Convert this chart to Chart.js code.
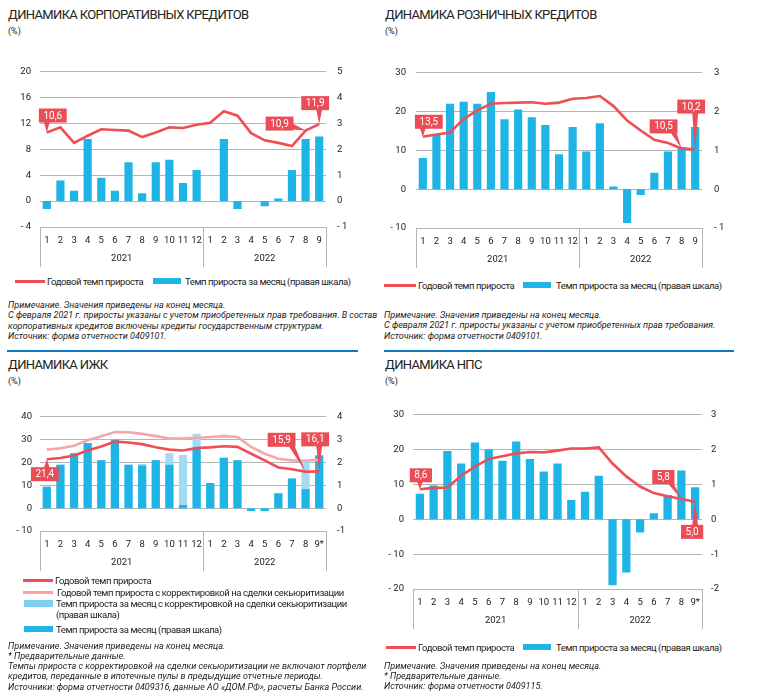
<!DOCTYPE html>
<html lang="ru">
<head>
<meta charset="utf-8">
<title>Динамика кредитов</title>
<script src="https://cdn.jsdelivr.net/npm/chart.js@4.4.1/dist/chart.umd.min.js"></script>
<style>
  html, body { margin: 0; padding: 0; background: #fff; }
  #page { position: relative; width: 768px; height: 699px; overflow: hidden; font-family: Roboto, sans-serif; color: #222; }
  #page canvas { position: absolute; }
  .title { position: absolute; font-size: 13px; letter-spacing: -0.65px; line-height: 14px; white-space: nowrap; }
  .unit { position: absolute; font-size: 9px; line-height: 10px; }
  .lg { position: absolute; font-size: 9.5px; letter-spacing: -0.42px; line-height: 11px; white-space: nowrap; }
  .sw { position: absolute; }
  .note { position: absolute; font-size: 9px; font-style: italic; line-height: 10.25px; white-space: nowrap; }
  .rule { position: absolute; top: 350px; height: 2px; background: #0a78c2; }
</style>
</head>
<body>
<div id="page">
  <div class="title" style="left:8px;top:8px">ДИНАМИКА КОРПОРАТИВНЫХ КРЕДИТОВ</div>
  <div class="unit" style="left:8px;top:26px">(%)</div>
  <div class="title" style="left:385px;top:8px">ДИНАМИКА РОЗНИЧНЫХ КРЕДИТОВ</div>
  <div class="unit" style="left:385px;top:26px">(%)</div>
  <div class="title" style="left:8px;top:358px">ДИНАМИКА ИЖК</div>
  <div class="unit" style="left:8px;top:376px">(%)</div>
  <div class="title" style="left:385px;top:358px">ДИНАМИКА НПС</div>
  <div class="unit" style="left:385px;top:376px">(%)</div>

  <canvas id="corp" width="384" height="220" style="left:0;top:55px"></canvas>
  <canvas id="retail" width="384" height="220" style="left:384px;top:55px"></canvas>
  <canvas id="ijk" width="384" height="175" style="left:0;top:400px"></canvas>
  <canvas id="nps" width="384" height="235" style="left:384px;top:400px"></canvas>

  <!-- legends -->
  <div class="sw" style="left:15px;top:279.5px;width:30px;height:3px;background:#ee4f55"></div>
  <div class="lg" style="left:47px;top:275.5px">Годовой темп прироста</div>
  <div class="sw" style="left:153px;top:278px;width:28px;height:6px;background:#1fb4e6"></div>
  <div class="lg" style="left:185px;top:275.5px">Темп прироста за месяц (правая шкала)</div>

  <div class="sw" style="left:384px;top:283.5px;width:32px;height:3px;background:#ee4f55"></div>
  <div class="lg" style="left:418px;top:279.5px">Годовой темп прироста</div>
  <div class="sw" style="left:523px;top:282px;width:28px;height:6px;background:#1fb4e6"></div>
  <div class="lg" style="left:556px;top:279.5px">Темп прироста за месяц (правая шкала)</div>

  <div class="sw" style="left:23px;top:578.5px;width:30px;height:3px;background:#ee4f55"></div>
  <div class="lg" style="left:55px;top:574.5px">Годовой темп прироста</div>
  <div class="sw" style="left:23px;top:590.5px;width:30px;height:3px;background:#f5a3a6"></div>
  <div class="lg" style="left:57px;top:586.5px">Годовой темп прироста с корректировкой на сделки секьюритизации</div>
  <div class="sw" style="left:24px;top:600px;width:29px;height:7px;background:#80cef1"></div>
  <div class="lg" style="left:56px;top:597.5px">Темп прироста за месяц с корректировкой на сделки секьюритизации<br>(правая шкала)</div>
  <div class="sw" style="left:24px;top:626px;width:29px;height:6px;background:#1fb4e6"></div>
  <div class="lg" style="left:56px;top:623.5px">Темп прироста за месяц (правая шкала)</div>

  <div class="sw" style="left:386px;top:645.5px;width:30px;height:3px;background:#ee4f55"></div>
  <div class="lg" style="left:418px;top:641.5px">Годовой темп прироста</div>
  <div class="sw" style="left:523px;top:644px;width:28px;height:6px;background:#1fb4e6"></div>
  <div class="lg" style="left:556px;top:641.5px">Темп прироста за месяц (правая шкала)</div>

  <!-- notes -->
  <div class="note" style="left:8px;top:300px">Примечание. Значения приведены на конец месяца.<br>С февраля 2021 г. приросты указаны с учетом приобретенных прав требования. В состав<br>корпоративных кредитов включены кредиты государственным структурам.<br>Источник: форма отчетности 0409101.</div>
  <div class="note" style="left:384px;top:310px">Примечание. Значения приведены на конец месяца.<br>С февраля 2021 г. приросты указаны с учетом приобретенных прав требования.<br>Источник: форма отчетности 0409101.</div>
  <div class="note" style="left:8px;top:640.5px">Примечание. Значения приведены на конец месяца.<br>* Предварительные данные.<br>Темпы прироста с корректировкой на сделки секьюритизации не включают портфели<br>кредитов, переданные в ипотечные пулы в предыдущие отчетные периоды.<br>Источники: форма отчетности 0409316, данные АО «ДОМ.РФ», расчеты Банка России.</div>
  <div class="note" style="left:384px;top:660.5px">Примечание. Значения приведены на конец месяца.<br>* Предварительные данные.<br>Источник: форма отчетности 0409115.</div>

  <div class="rule" style="left:7px;width:351px"></div>
  <div class="rule" style="left:384px;width:350px"></div>
</div>

<script>
// months Jan 2021 .. Sep 2022
const months = ["1", "2", "3", "4", "5", "6", "7", "8", "9", "10", "11", "12", "1", "2", "3", "4", "5", "6", "7", "8", "9"];
const monthsPrelim = ["1", "2", "3", "4", "5", "6", "7", "8", "9", "10", "11", "12", "1", "2", "3", "4", "5", "6", "7", "8", "9*"];
const years = ["2021", "2022"];
const yearSpans = [12, 9];

// corporate loans
const corpYoY = [10.6, 11.4, 9.0, 10.1, 11.1, 11.0, 10.9, 9.9, 10.6, 11.4, 11.3, 11.8, 12.1, 13.9, 13.2, 10.5, 9.4, 9.0, 8.5, 10.9, 11.9];
const corpMoM = [-0.3, 0.8, 0.4, 2.4, 0.9, 0.4, 1.5, 0.3, 1.5, 1.6, 0.7, 1.2, 0, 2.4, -0.3, 0, -0.2, 0.1, 1.2, 2.4, 2.5];
const corpLeftTicks = [-4, 0, 4, 8, 12, 16, 20];
const corpRightTicks = [-1, 0, 1, 2, 3, 4, 5];

// retail loans
const retailYoY = [13.5, 14.1, 14.6, 18.1, 20.3, 22.0, 22.2, 22.3, 22.4, 22.0, 22.3, 23.3, 23.5, 24.0, 21.4, 17.7, 15.1, 12.7, 11.9, 10.5, 10.2];
const retailMoM = [0.8, 1.4, 2.2, 2.25, 2.2, 2.5, 1.8, 2.05, 1.85, 1.65, 0.9, 1.6, 0.97, 1.7, 0.07, -0.87, -0.15, 0.42, 0.97, 1.08, 1.6];
const retailLeftTicks = [-10, 0, 10, 20, 30];
const retailRightTicks = [-1, 0, 1, 2, 3];

// mortgage loans (ИЖК)
const ijkYoY = [21.4, 21.9, 23.0, 25.2, 27.0, 29.1, 28.7, 28.0, 26.6, 25.6, 25.2, 26.3, 26.6, 27.1, 26.8, 23.8, 20.9, 17.8, 17.0, 15.9, 16.1];
const ijkYoYAdj = [25.6, 26.2, 27.3, 29.7, 31.5, 33.3, 33.2, 32.5, 31.5, 30.5, 30.4, 30.8, 31.1, 31.5, 31.1, 26.8, 23.8, 21.6, 20.9, 20.7, 21.2];
const ijkMoM = [0.94, 1.9, 2.4, 2.85, 2.1, 3.0, 1.9, 1.86, 2.1, 1.9, 0.14, 2.6, 1.1, 2.2, 2.1, -0.13, -0.13, 0.65, 1.3, 0.83, 2.3];
const ijkMoMAdj = [0.94, 1.9, 2.4, 2.85, 2.1, 3.0, 1.9, 1.93, 2.1, 2.4, 2.32, 3.25, 1.1, 2.2, 2.1, -0.13, -0.13, 0.65, 1.3, 2.03, 2.3];
const ijkLeftTicks = [-10, 0, 10, 20, 30, 40];
const ijkRightTicks = [-1, 0, 1, 2, 3, 4];

// unsecured consumer loans (НПС)
const npsYoY = [8.6, 9.0, 9.1, 12.5, 15.1, 17.3, 18.1, 18.9, 19.3, 19.2, 19.7, 20.3, 20.3, 20.6, 16.0, 12.3, 9.4, 7.5, 6.6, 5.8, 5.0];
const npsMoM = [0.73, 0.97, 1.96, 1.6, 2.2, 2.0, 1.68, 2.23, 1.73, 1.37, 1.6, 0.55, 0.79, 1.25, -1.89, -1.53, -0.38, 0.17, 0.7, 1.4, 0.92];
const npsLeftTicks = [-20, -10, 0, 10, 20, 30];
const npsRightTicks = [-2, -1, 0, 1, 2, 3];

const RED = "#ee4f55";
const PINK = "#f5a8ab";
const BLUE = "#1fb4e6";
const LIGHTBLUE = "#a3dbf3";
const GRID = "#b5b5b5";

Chart.defaults.font.family = "Roboto, sans-serif";
Chart.defaults.font.size = 9.5;
Chart.defaults.color = "#222";

// month axis box with year captions
const yearAxis = {
  id: "yearAxis",
  afterDraw(chart) {
    const { ctx, chartArea, scales } = chart;
    const x = scales.x;
    const half = (x.getPixelForValue(1) - x.getPixelForValue(0)) / 2;
    const bottom = chartArea.bottom + 40;
    ctx.save();
    ctx.strokeStyle = GRID;
    ctx.lineWidth = 1;
    ctx.fillStyle = "#222";
    ctx.font = "9.5px Roboto, sans-serif";
    ctx.textAlign = "center";
    ctx.textBaseline = "middle";
    let start = 0;
    const edges = [chartArea.left];
    years.forEach((yr, k) => {
      const end = start + yearSpans[k] - 1;
      const l = x.getPixelForValue(start) - half;
      const r = x.getPixelForValue(end) + half;
      edges.push(r);
      ctx.fillText(yr, (l + r) / 2, chartArea.bottom + 32);
      start = end + 1;
    });
    edges.forEach((e) => {
      const px = Math.round(e) + 0.5;
      ctx.beginPath();
      ctx.moveTo(px, chartArea.bottom);
      ctx.lineTo(px, bottom);
      ctx.stroke();
    });
    ctx.restore();
  },
};

// red value callouts
const callouts = {
  id: "callouts",
  afterDatasetsDraw(chart, args, opts) {
    const { ctx } = chart;
    (opts.items || []).forEach(({ ds, i, dx, dy }) => {
      const pt = chart.getDatasetMeta(ds).data[i];
      const v = chart.data.datasets[ds].data[i];
      const text = v.toFixed(1).replace(".", ",");
      ctx.save();
      ctx.font = "10px Roboto, sans-serif";
      const w = ctx.measureText(text).width + 9;
      const h = 14;
      const cx = pt.x + dx;
      const cy = pt.y + dy;
      const l = cx - w / 2;
      const t = cy - h / 2;
      let b1, b2;
      if (Math.abs(dy) - h / 2 > Math.abs(dx) - w / 2) {
        const ey = dy < 0 ? t + h - 1 : t + 1;
        const bx = Math.min(Math.max(pt.x, l + 4), l + w - 4);
        b1 = [bx - 3, ey];
        b2 = [bx + 3, ey];
      } else {
        const ex = dx < 0 ? l + w - 1 : l + 1;
        const by = Math.min(Math.max(pt.y, t + 4), t + h - 4);
        b1 = [ex, by - 3];
        b2 = [ex, by + 3];
      }
      ctx.fillStyle = "#ea4d55";
      ctx.beginPath();
      ctx.moveTo(b1[0], b1[1]);
      ctx.lineTo(pt.x, pt.y);
      ctx.lineTo(b2[0], b2[1]);
      ctx.closePath();
      ctx.fill();
      ctx.fillRect(l, t, w, h);
      ctx.fillStyle = "#fff";
      ctx.textAlign = "center";
      ctx.textBaseline = "middle";
      ctx.fillText(text, cx, cy + 0.5);
      ctx.restore();
    });
  },
};

function fmt(v, spaced) {
  if (v < 0) return (spaced ? "- " : "-") + Math.abs(v);
  return String(v);
}

function panelOptions(p) {
  return {
    responsive: false,
    animation: false,
    layout: { padding: { top: p.top, left: 0, right: 0, bottom: 0 } },
    plugins: {
      legend: { display: false },
      tooltip: { enabled: false },
      callouts: { items: p.callouts },
    },
    scales: {
      x: {
        grid: { display: false, drawTicks: false },
        border: { display: false },
        ticks: { padding: p.tickPad, maxRotation: 0, autoSkip: false },
        afterFit(s) { s.height = p.xHeight; },
      },
      y: {
        position: "left",
        min: p.left[0],
        max: p.left[p.left.length - 1],
        afterBuildTicks(s) { s.ticks = p.left.map((v) => ({ value: v })); },
        ticks: { padding: p.leftPad, callback: (v) => fmt(v, true) },
        grid: { color: GRID, drawTicks: false },
        border: { display: false },
        afterFit(s) { s.width = p.leftW; },
      },
      y1: {
        position: "right",
        min: p.right[0],
        max: p.right[p.right.length - 1],
        afterBuildTicks(s) { s.ticks = p.right.map((v) => ({ value: v })); },
        ticks: { padding: p.rightPad, callback: (v) => fmt(v, p.rightSpaced) },
        grid: { display: false, drawTicks: false },
        border: { display: false },
        afterFit(s) { s.width = p.rightW; },
      },
    },
  };
}

function lineSet(data, color, order) {
  return {
    type: "line", data, yAxisID: "y", borderColor: color, borderWidth: 2.6,
    pointRadius: 0, tension: 0, order,
  };
}

function barSet(data, color, order) {
  return {
    type: "bar", data, yAxisID: "y1", backgroundColor: color, borderWidth: 0,
    categoryPercentage: 1, barPercentage: 0.6, grouped: false, order,
  };
}

new Chart(document.querySelector("#corp"), {
  data: {
    labels: months,
    datasets: [lineSet(corpYoY, RED, 0), barSet(corpMoM, BLUE, 1)],
  },
  options: panelOptions({
    top: 14, xHeight: 48, tickPad: 8, leftW: 40, rightW: 58, leftPad: 9, rightPad: 11,
    left: corpLeftTicks, right: corpRightTicks, rightSpaced: true,
    callouts: [
      { ds: 0, i: 0, dx: 6, dy: -17 },
      { ds: 0, i: 19, dx: -26, dy: -7 },
      { ds: 0, i: 20, dx: -4, dy: -21 },
    ],
  }),
  plugins: [yearAxis, callouts],
});

new Chart(document.querySelector("#retail"), {
  data: {
    labels: months,
    datasets: [lineSet(retailYoY, RED, 0), barSet(retailMoM, BLUE, 1)],
  },
  options: panelOptions({
    top: 12, xHeight: 47, tickPad: 8, leftW: 32, rightW: 66, leftPad: 10, rightPad: 12,
    left: retailLeftTicks, right: retailRightTicks, rightSpaced: true,
    callouts: [
      { ds: 0, i: 0, dx: 6, dy: -15 },
      { ds: 0, i: 19, dx: -18, dy: -22 },
      { ds: 0, i: 20, dx: -4, dy: -43 },
    ],
  }),
  plugins: [yearAxis, callouts],
});

new Chart(document.querySelector("#ijk"), {
  data: {
    labels: monthsPrelim,
    datasets: [
      lineSet(ijkYoY, RED, 0),
      lineSet(ijkYoYAdj, PINK, 1),
      barSet(ijkMoM, BLUE, 2),
      barSet(ijkMoMAdj, LIGHTBLUE, 3),
    ],
  },
  options: panelOptions({
    top: 12, xHeight: 44, tickPad: 8, leftW: 40, rightW: 58, leftPad: 8, rightPad: 11,
    left: ijkLeftTicks, right: ijkRightTicks, rightSpaced: false,
    callouts: [
      { ds: 0, i: 0, dx: -2, dy: 15 },
      { ds: 0, i: 19, dx: -24, dy: -32 },
      { ds: 0, i: 20, dx: -4, dy: -32 },
    ],
  }),
  plugins: [yearAxis, callouts],
});

new Chart(document.querySelector("#nps"), {
  data: {
    labels: monthsPrelim,
    datasets: [lineSet(npsYoY, RED, 0), barSet(npsMoM, BLUE, 1)],
  },
  options: panelOptions({
    top: 12, xHeight: 46, tickPad: 8, leftW: 29, rightW: 66, leftPad: 9, rightPad: 9,
    left: npsLeftTicks, right: npsRightTicks, rightSpaced: false,
    callouts: [
      { ds: 0, i: 0, dx: 1, dy: -14 },
      { ds: 0, i: 19, dx: -18, dy: -22 },
      { ds: 0, i: 20, dx: -3, dy: 30 },
    ],
  }),
  plugins: [yearAxis, callouts],
});
</script>
</body>
</html>
